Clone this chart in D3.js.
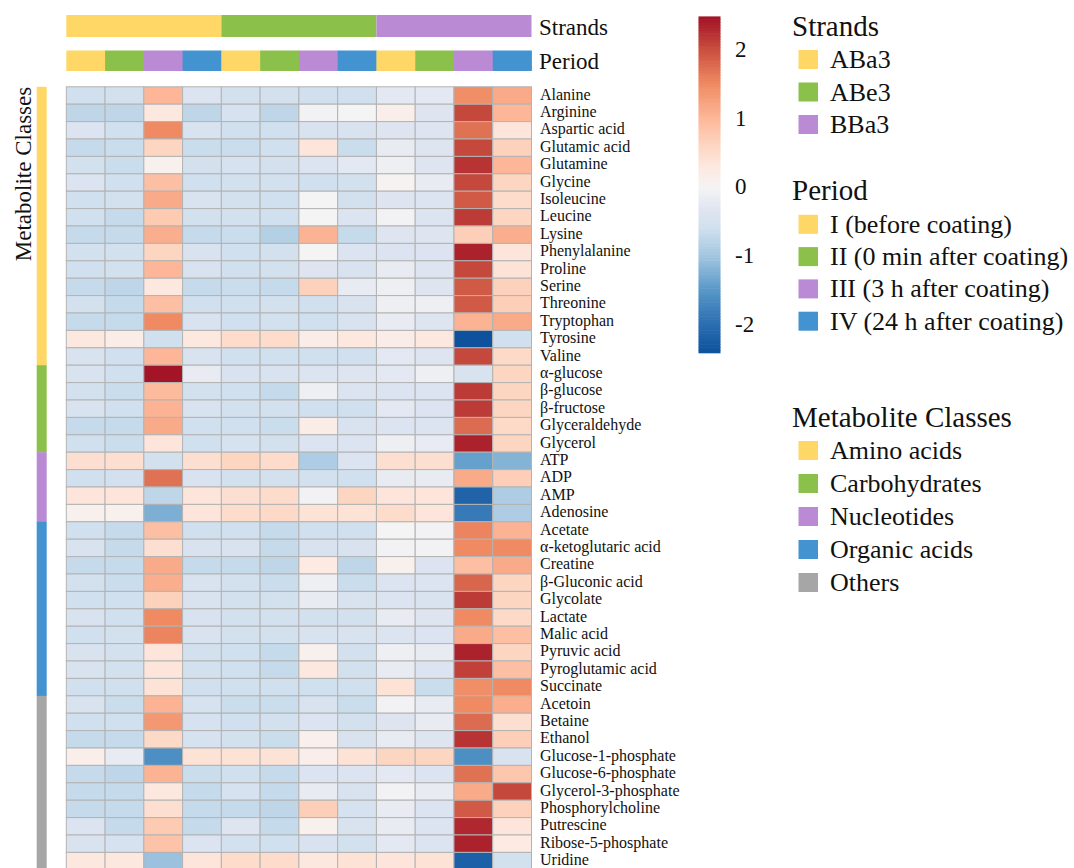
<!DOCTYPE html>
<html>
<head>
<meta charset="utf-8">
<script src="https://cdn.jsdelivr.net/npm/d3@7"></script>
<style>
  html, body { margin: 0; padding: 0; background: #ffffff; }
  svg { display: block; font-family: "Liberation Serif", "Times New Roman", serif; }
</style>
</head>
<body>
<svg id="chart" width="1074" height="868"></svg>
<script>
// ---- data -------------------------------------------------------------
const strands = ["ABa3", "ABe3", "BBa3"];
const periods = ["I (before coating)", "II (0 min after coating)", "III (3 h after coating)", "IV (24 h after coating)"];
const periodCodes = ["I", "II", "III", "IV"];
const classNames = ["Amino acids", "Carbohydrates", "Nucleotides", "Organic acids", "Others"];

const aminoAcids = ["Alanine", "Arginine", "Aspartic acid", "Glutamic acid", "Glutamine", "Glycine",
  "Isoleucine", "Leucine", "Lysine", "Phenylalanine", "Proline", "Serine", "Threonine",
  "Tryptophan", "Tyrosine", "Valine"];
const aminoValues = [
  [-0.60, -0.55, 1.00, -0.40, -0.55, -0.55, -0.60, -0.60, -0.25, -0.25, 1.45, 1.15],
  [-0.75, -0.75, 0.30, -0.75, -0.50, -0.75, -0.05, 0.00, 0.15, -0.35, 2.05, 1.00],
  [-0.40, -0.60, 1.50, -0.45, -0.60, -0.60, -0.45, -0.45, -0.35, -0.35, 1.70, 0.35],
  [-0.70, -0.65, 0.60, -0.65, -0.65, -0.60, 0.35, -0.65, -0.20, -0.35, 2.05, 0.65],
  [-0.55, -0.65, 0.10, -0.55, -0.50, -0.55, -0.40, -0.25, -0.10, -0.35, 2.20, 1.00],
  [-0.40, -0.60, 0.90, -0.60, -0.55, -0.55, -0.60, -0.55, 0.05, -0.20, 2.05, 0.60],
  [-0.60, -0.55, 1.15, -0.45, -0.55, -0.60, 0.00, -0.55, -0.35, -0.40, 1.90, 0.50],
  [-0.60, -0.70, 0.75, -0.55, -0.55, -0.60, 0.00, -0.40, -0.05, -0.40, 2.15, 0.60],
  [-0.70, -0.70, 1.10, -0.70, -0.65, -0.85, 1.05, -0.70, -0.35, -0.35, 0.70, 1.10],
  [-0.55, -0.55, 0.60, -0.45, -0.60, -0.55, 0.00, -0.40, -0.40, -0.40, 2.35, 0.35],
  [-0.60, -0.55, 1.00, -0.45, -0.60, -0.55, -0.35, -0.45, -0.20, -0.35, 2.05, 0.40],
  [-0.70, -0.75, 0.30, -0.70, -0.65, -0.70, 0.65, -0.20, -0.10, -0.35, 1.90, 0.65],
  [-0.55, -0.70, 0.90, -0.60, -0.60, -0.55, -0.60, -0.45, -0.10, -0.10, 1.90, 0.70],
  [-0.70, -0.70, 1.50, -0.45, -0.60, -0.55, -0.60, -0.45, -0.20, -0.35, 1.05, 1.15],
  [0.30, 0.20, -0.60, 0.30, 0.50, 0.50, 0.20, 0.30, 0.20, 0.30, -2.40, -0.60],
  [-0.45, -0.60, 1.00, -0.45, -0.60, -0.60, -0.60, -0.60, -0.25, -0.35, 2.05, 0.55]
];

const carbohydrates = ["\u03b1-glucose", "\u03b2-glucose", "\u03b2-fructose", "Glyceraldehyde", "Glycerol"];
const carbohydrateValues = [
  [-0.45, -0.60, 2.45, -0.20, -0.45, -0.45, -0.40, -0.35, -0.25, -0.10, -0.45, 0.60],
  [-0.55, -0.65, 0.95, -0.55, -0.60, -0.70, -0.10, -0.40, -0.40, -0.40, 2.15, 0.60],
  [-0.45, -0.60, 1.05, -0.45, -0.55, -0.55, -0.60, -0.60, -0.25, -0.40, 2.15, 0.60],
  [-0.70, -0.70, 1.15, -0.60, -0.60, -0.65, 0.20, -0.45, -0.40, -0.40, 1.75, 0.55],
  [-0.60, -0.65, 0.35, -0.60, -0.50, -0.55, -0.40, -0.40, -0.10, -0.20, 2.35, 0.60]
];

const nucleotides = ["ATP", "ADP", "AMP", "Adenosine"];
const nucleotideValues = [
  [0.45, 0.45, -0.55, 0.45, 0.60, 0.50, -0.90, -0.40, 0.45, 0.45, -1.40, -1.20],
  [-0.60, -0.55, 1.70, -0.45, -0.55, -0.55, -0.55, -0.60, -0.20, -0.20, 1.15, 0.70],
  [0.35, 0.35, -0.75, 0.35, 0.45, 0.50, -0.05, 0.60, 0.35, 0.35, -2.15, -0.90],
  [0.10, 0.10, -1.25, 0.35, 0.50, 0.55, 0.40, 0.40, 0.50, 0.35, -1.85, -0.90]
];

const organicAcids = ["Acetate", "\u03b1-ketoglutaric acid", "Creatine", "\u03b2-Gluconic acid", "Glycolate",
  "Lactate", "Malic acid", "Pyruvic acid", "Pyroglutamic acid", "Succinate"];
const organicAcidValues = [
  [-0.60, -0.70, 0.90, -0.60, -0.60, -0.70, -0.60, -0.60, 0.00, -0.05, 1.55, 1.05],
  [-0.45, -0.70, 0.45, -0.45, -0.45, -0.70, -0.45, -0.45, -0.05, -0.05, 1.50, 1.50],
  [-0.70, -0.70, 1.15, -0.70, -0.70, -0.75, 0.25, -0.75, 0.10, -0.40, 0.90, 1.15],
  [-0.55, -0.65, 1.10, -0.45, -0.55, -0.65, -0.10, -0.65, -0.40, -0.40, 1.80, 0.60],
  [-0.60, -0.60, 0.65, -0.45, -0.55, -0.55, -0.20, -0.45, -0.40, -0.45, 2.15, 0.60],
  [-0.45, -0.60, 1.50, -0.45, -0.55, -0.55, -0.55, -0.55, -0.20, -0.35, 1.50, 0.55],
  [-0.60, -0.55, 1.55, -0.45, -0.55, -0.55, -0.45, -0.45, -0.40, -0.40, 1.15, 0.90],
  [-0.45, -0.55, 0.35, -0.55, -0.60, -0.70, 0.10, -0.55, -0.10, -0.20, 2.35, 0.60],
  [-0.45, -0.55, 0.35, -0.55, -0.60, -0.70, 0.30, -0.55, -0.20, -0.40, 2.10, 0.90],
  [-0.60, -0.60, 0.40, -0.60, -0.60, -0.60, -0.60, -0.60, 0.40, -0.65, 1.45, 1.50]
];

const others = ["Acetoin", "Betaine", "Ethanol", "Glucose-1-phosphate", "Glucose-6-phosphate",
  "Glycerol-3-phosphate", "Phosphorylcholine", "Putrescine", "Ribose-5-phosphate", "Uridine"];
const otherValues = [
  [-0.45, -0.65, 1.05, -0.50, -0.65, -0.65, -0.45, -0.65, -0.05, -0.20, 1.50, 1.10],
  [-0.60, -0.60, 1.35, -0.50, -0.60, -0.55, -0.40, -0.55, -0.35, -0.20, 1.75, 0.45],
  [-0.70, -0.70, 0.55, -0.50, -0.55, -0.65, 0.10, -0.45, -0.20, -0.35, 2.20, 0.70],
  [0.15, -0.20, -1.60, 0.40, 0.40, 0.40, 0.15, 0.40, 0.60, 0.60, -1.60, -0.45],
  [-0.70, -0.75, 1.05, -0.65, -0.60, -0.70, -0.40, -0.40, -0.25, -0.40, 1.70, 0.80],
  [-0.70, -0.70, 0.30, -0.70, -0.50, -0.70, -0.20, -0.45, -0.05, -0.20, 1.15, 2.05],
  [-0.70, -0.70, 0.45, -0.70, -0.70, -0.75, 0.70, -0.50, -0.20, -0.40, 1.90, 0.65],
  [-0.40, -0.70, 0.75, -0.70, -0.35, -0.70, 0.10, -0.45, -0.20, -0.40, 2.30, 0.35],
  [-0.45, -0.50, 0.85, -0.40, -0.55, -0.60, -0.45, -0.55, -0.25, -0.40, 2.35, 0.25],
  [0.30, 0.30, -1.05, 0.35, 0.50, 0.50, 0.30, 0.40, 0.35, 0.40, -2.20, -0.55]
];

const colorTicks = [-2, -1, 0, 1, 2];

// ---- assemble rows & columns -----------------------------------------
const groups = [
  { cls: classNames[0], names: aminoAcids, vals: aminoValues },
  { cls: classNames[1], names: carbohydrates, vals: carbohydrateValues },
  { cls: classNames[2], names: nucleotides, vals: nucleotideValues },
  { cls: classNames[3], names: organicAcids, vals: organicAcidValues },
  { cls: classNames[4], names: others, vals: otherValues }
];
const rows = groups.flatMap(g => g.names.map((n, i) => ({ name: n, cls: g.cls, vals: g.vals[i] })));
const columns = strands.flatMap(s => periodCodes.map(p => ({ id: s + "_" + p, strand: s, period: p })));

// ---- palettes --------------------------------------------------------
const annotColors = ["#fed766", "#8bc14a", "#ba8bd4", "#4393d0", "#a6a6a6"];
const strandColor = d3.scaleOrdinal().domain(strands).range(annotColors.slice(0, 3));
const periodColor = d3.scaleOrdinal().domain(periodCodes).range(annotColors.slice(0, 4));
const classColor = d3.scaleOrdinal().domain(classNames).range(annotColors);

const color = d3.scaleLinear()
  .domain([-2.45, -2.0, -1.5, -1.0, -0.6, -0.3, 0, 0.3, 0.6, 1.0, 1.5, 2.0, 2.45])
  .range(["#0b4f9c", "#2a6db0", "#5797c8", "#a3c6e0", "#d0e0ee", "#e1e6f1", "#f5f4f4",
          "#fde8e0", "#fdd6c2", "#fdb798", "#ef8a62", "#c94e3f", "#a31427"])
  .clamp(true);

// ---- layout ----------------------------------------------------------
const svg = d3.select("#chart");
const heatLeft = 66.3, heatRight = 531.5, heatTop = 86.8, rowH = 17.4;

const x = d3.scaleBand().domain(columns.map(c => c.id)).range([heatLeft, heatRight]);
const y = d3.scaleBand().domain(rows.map(r => r.name)).range([heatTop, heatTop + rowH * rows.length]);

// column annotation: strands, one continuous block per strand
const strandSpans = strands.map(s => {
  const cols = columns.filter(c => c.strand === s);
  return { key: s, x0: x(cols[0].id), x1: x(cols[cols.length - 1].id) + x.bandwidth() };
});
svg.append("g").selectAll("rect").data(strandSpans).join("rect")
  .attr("x", d => d.x0).attr("y", 15)
  .attr("width", d => d.x1 - d.x0).attr("height", 22)
  .attr("fill", d => strandColor(d.key));
svg.append("text").attr("x", 539).attr("y", 34.5)
  .attr("font-size", 23).attr("fill", "#111").text("Strands");

// column annotation: period
svg.append("g").selectAll("rect").data(columns).join("rect")
  .attr("x", c => x(c.id)).attr("y", 50.5)
  .attr("width", x.bandwidth() + 0.4).attr("height", 20.5)
  .attr("fill", c => periodColor(c.period));
svg.append("text").attr("x", 539).attr("y", 68.5)
  .attr("font-size", 23).attr("fill", "#111").text("Period");

// row annotation: metabolite class, one continuous block per class
const classSpans = groups.map(g => ({
  key: g.cls,
  y0: y(g.names[0]),
  y1: y(g.names[g.names.length - 1]) + y.bandwidth()
}));
svg.append("g").selectAll("rect").data(classSpans).join("rect")
  .attr("x", 36.7).attr("y", d => d.y0)
  .attr("width", 10).attr("height", d => d.y1 - d.y0 + 0.3)
  .attr("fill", d => classColor(d.key));

svg.append("text")
  .attr("transform", `translate(30.5,${heatTop}) rotate(-90)`)
  .attr("text-anchor", "end")
  .attr("font-size", 23).attr("fill", "#111")
  .text("Metabolite Classes");

// heatmap cells
const cells = rows.flatMap(r => columns.map((c, j) => ({ row: r.name, col: c.id, v: r.vals[j] })));
svg.append("g").selectAll("rect").data(cells).join("rect")
  .attr("x", d => x(d.col)).attr("y", d => y(d.row))
  .attr("width", x.bandwidth()).attr("height", y.bandwidth())
  .attr("fill", d => color(d.v))
  .attr("stroke", "#b3b3b3").attr("stroke-width", 1);

// row labels
svg.append("g").selectAll("text").data(rows).join("text")
  .attr("x", 540).attr("y", r => y(r.name) + y.bandwidth() / 2 + 4)
  .attr("font-size", 16).attr("fill", "#111")
  .text(r => r.name);

// ---- colour legend ---------------------------------------------------
const barX = 698.5, barW = 22;
const legY = d3.scaleLinear().domain([-2.41, 2.47]).range([353, 16.7]);
const nSteps = 120;
const steps = d3.range(0, nSteps).map(i => -2.41 + (i + 0.5) * (2.47 + 2.41) / nSteps);
const stepH = (353 - 16.7) / nSteps;
svg.append("g").selectAll("rect").data(steps).join("rect")
  .attr("x", barX).attr("y", v => legY(v) - stepH / 2 - 0.3)
  .attr("width", barW).attr("height", stepH + 0.6)
  .attr("fill", v => color(v));
svg.append("g").selectAll("text").data(colorTicks).join("text")
  .attr("x", 735).attr("y", v => legY(v))
  .attr("dominant-baseline", "central")
  .attr("font-size", 23).attr("fill", "#111")
  .text(v => v);

// ---- categorical legends --------------------------------------------
function legend(title, items, colorFn, titleBaseline, firstCenter, step) {
  const g = svg.append("g");
  g.append("text").attr("x", 792).attr("y", titleBaseline)
    .attr("font-size", 29).attr("fill", "#111").text(title);
  items.forEach((it, i) => {
    const cy = firstCenter + i * step;
    g.append("rect").attr("x", 798.5).attr("y", cy - 9.5)
      .attr("width", 19.5).attr("height", 19)
      .attr("fill", colorFn(it.key));
    g.append("text").attr("x", 830).attr("y", cy)
      .attr("dominant-baseline", "central")
      .attr("font-size", 26).attr("fill", "#111").text(it.label);
  });
}
legend("Strands", strands.map(s => ({ key: s, label: s })), strandColor, 36, 59.5, 32.5);
legend("Period", periods.map((p, i) => ({ key: periodCodes[i], label: p })), periodColor, 200, 224.3, 32.3);
legend("Metabolite Classes", classNames.map(c => ({ key: c, label: c })), classColor, 427, 450.5, 33);
</script>
</body>
</html>
